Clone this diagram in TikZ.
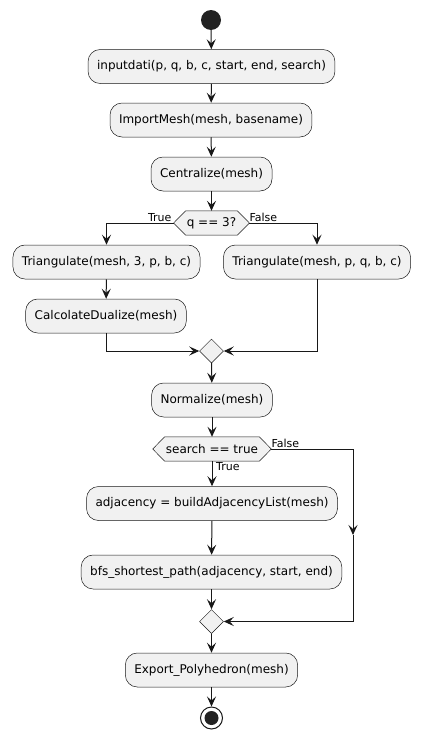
\documentclass[tikz,border=0pt]{standalone}
\usepackage{fontspec}
\setmainfont{DejaVu Sans}
\usetikzlibrary{arrows.meta,shapes.geometric,backgrounds,calc}
\definecolor{bg}{HTML}{F1F1F1}
\definecolor{lc}{HTML}{181818}
\definecolor{dot}{HTML}{222222}
\newcommand{\bfnt}{\fontsize{12pt}{14pt}\selectfont}
\newcommand{\lfnt}{\fontsize{11pt}{13pt}\selectfont}
\begin{document}
\begin{tikzpicture}[x=1pt,y=-1pt,
  box/.style={draw=lc, fill=bg, rounded corners=12pt, line width=0.5pt, minimum height=34pt, inner xsep=9pt, font=\bfnt},
  hexnode/.style={inner xsep=13pt, inner ysep=0pt, minimum height=24pt, font=\bfnt},
  hexdraw/.style={draw=lc, fill=bg, line width=0.5pt},
  merge/.style={diamond, draw=lc, fill=bg, line width=0.5pt, minimum width=24pt, minimum height=24pt, inner sep=0pt},
  arr/.style={-{Stealth[length=10pt,width=9pt,inset=4pt]}, line width=1pt, draw=lc},
  ln/.style={line width=1pt, draw=lc},
  lbl/.style={font=\lfnt, inner sep=1pt}
]
\useasboundingbox (0,0) rectangle (422,739);
\node[circle, fill=dot, minimum size=20pt, inner sep=0pt] (start) at (211,20) {};
\node[box] (b1) at (211.5,66.5) {inputdati(p, q, b, c, start, end, search)};
\node[box] (b2) at (211,120) {ImportMesh(mesh, basename)};
\node[box] (b3) at (211.5,174) {Centralize(mesh)};
\node[hexnode] (d1) at (211.5,223) {q == 3?};
\node[box] (t1) at (106.5,262) {Triangulate(mesh, 3, p, b, c)};
\node[box] (f1) at (317,262) {Triangulate(mesh, p, q, b, c)};
\node[box] (t2) at (106,316) {CalcolateDualize(mesh)};
\node[merge] (m1) at (211.5,351) {};
\node[box] (norm) at (212,400) {Normalize(mesh)};
\node[hexnode] (d2) at (212,449) {search == true};
\node[box] (adj) at (212,503.5) {adjacency = buildAdjacencyList(mesh)};
\node[box] (bfs) at (211.5,572) {bfs\_shortest\_path(adjacency, start, end)};
\node[merge] (m2) at (211.5,621.5) {};
\node[box] (exp) at (211.5,670) {Export\_Polyhedron(mesh)};
\node[circle, draw=lc, line width=1pt, fill=white, minimum size=22pt, inner sep=0pt] (stop) at (211.5,718) {};
\node[circle, fill=dot, minimum size=14pt, inner sep=0pt] (stopin) at (stop.center) {};
\begin{scope}[on background layer]
  \foreach \h in {d1,d2}{
    \draw[hexdraw] (\h.west) -- ([xshift=12pt]\h.north west) -- ([xshift=-12pt]\h.north east)
      -- (\h.east) -- ([xshift=-12pt]\h.south east) -- ([xshift=12pt]\h.south west) -- cycle;
  }
\end{scope}
\coordinate (fr) at (353,449);
\coordinate (fm) at (353,535);
\draw[arr] (start) -- (b1);
\draw[arr] (b1) -- (b2);
\draw[arr] (b2) -- (b3);
\draw[arr] (b3) -- (d1);
\draw[arr] (d1.west) -| (t1.north);
\node[lbl, anchor=south east] at ([xshift=-1pt]d1.west) {True};
\draw[arr] (d1.east) -| (f1.north);
\node[lbl, anchor=south west] at ([xshift=-1pt]d1.east) {False};
\draw[arr] (t1) -- (t2);
\draw[arr] (t2.south) |- (m1.west);
\draw[arr] (f1.south) |- (m1.east);
\draw[arr] (m1) -- (norm);
\draw[arr] (norm) -- (d2);
\draw[arr] (d2.south) -- (adj.north);
\node[lbl, anchor=north west] at ([xshift=3pt]d2.south) {True};
\draw[arr] (adj) -- (bfs);
\draw[arr] (bfs) -- (m2);
\draw[ln] (d2.east) -- (fr);
\node[lbl, anchor=south west] at ([xshift=-1pt]d2.east) {False};
\draw[arr] (fr) -- (fm);
\draw[arr] (fm) |- (m2.east);
\draw[arr] (exp) -- (stop);
\draw[arr] (m2) -- (exp);
\end{tikzpicture}
\end{document}
